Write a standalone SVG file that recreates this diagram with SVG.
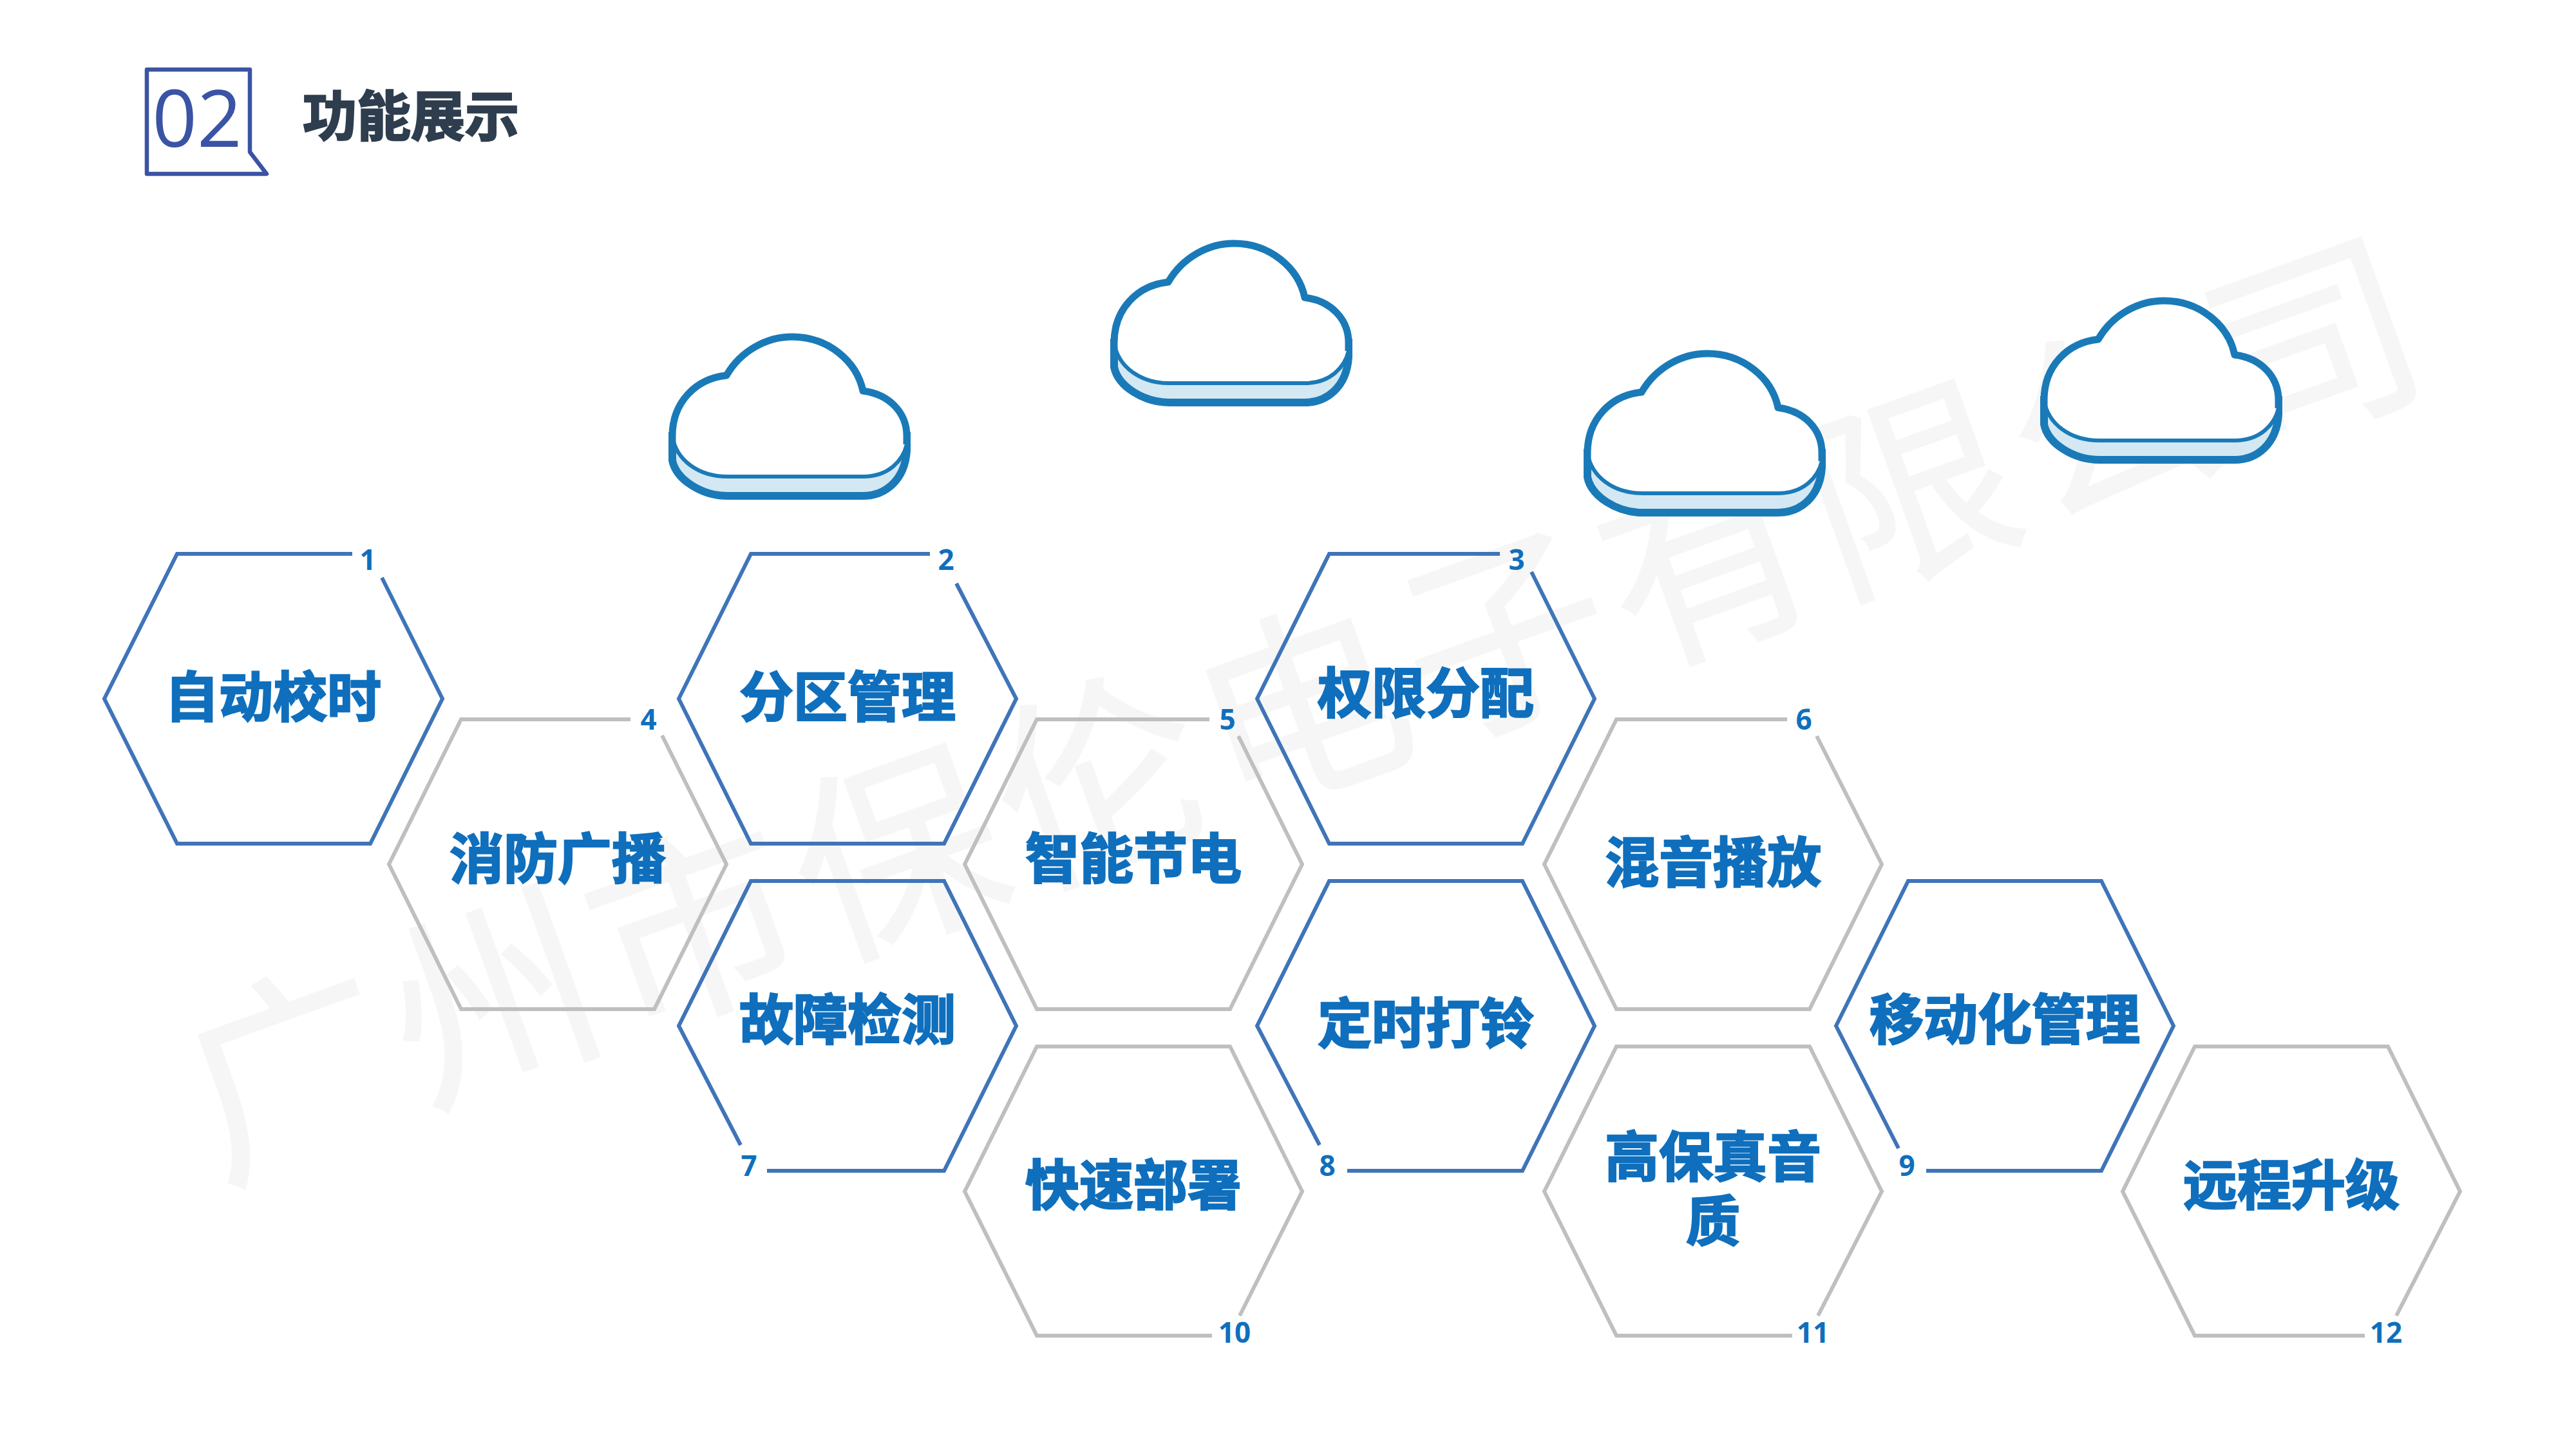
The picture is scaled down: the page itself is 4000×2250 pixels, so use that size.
<svg xmlns="http://www.w3.org/2000/svg" width="4000" height="2250" viewBox="0 0 4000 2250">
<style>
.hb{fill:none;stroke:#3f74b8;stroke-width:6}
.hg{fill:none;stroke:#bfbfbf;stroke-width:6}
.t{font-family:"Noto Sans CJK SC",sans-serif;font-weight:700;font-size:84px;fill:#0f6fbd;stroke:#0f6fbd;stroke-width:2.5;text-anchor:middle}
.n{font-family:"Open Sans","Noto Sans",sans-serif;font-weight:700;font-size:44px;fill:#0f6fbd;text-anchor:middle}
.c1{fill:none;stroke:#1a7ab8;stroke-width:11;stroke-linejoin:round}
</style>
<defs>
<g id="cloud">
<path d="M1044,677V715C1050,745 1090,770 1130,770H1340C1375,770 1405,745 1408,700V677Z" fill="#d3e8f2" stroke="#1a7ab8" stroke-width="12"/>
<path d="M1044,677C1044,625 1080,588 1128,583C1150,545 1190,523 1230,523C1285,523 1330,560 1340,607C1380,612 1408,640 1408,677C1408,710 1380,740 1340,740H1130C1085,740 1050,715 1044,677Z" fill="#fff" stroke="none"/>
<path d="M1044,690V677C1044,625 1080,588 1128,583C1150,545 1190,523 1230,523C1285,523 1330,560 1340,607C1380,612 1408,640 1408,677V690" class="c1"/>
<path d="M1044,677C1050,715 1085,740 1130,740H1340C1380,740 1402,715 1408,690" fill="none" stroke="#1a7ab8" stroke-width="6"/>
</g>
</defs>
<rect width="4000" height="2250" fill="#fff"/>
<text id="watermark" transform="translate(340,1830) rotate(-19.8)" font-family="Noto Sans CJK SC,sans-serif" font-size="320" fill="#f6f6f6" stroke="#f6f6f6" stroke-width="3" textLength="3660">广州市保伦电子有限公司</text>
<g id="header">
<path d="M228,108H388V236L414,270H228Z" fill="none" stroke="#3b53a4" stroke-width="6.5" stroke-linejoin="round"/>
<text x="306" y="228" font-family="Open Sans,sans-serif" font-weight="400" font-size="122" fill="#3b53a4" text-anchor="middle">02</text>
<text x="638" y="211" font-family="Noto Sans CJK SC,sans-serif" font-weight="700" font-size="84" fill="#2f3e4e" stroke="#2f3e4e" stroke-width="2.5" text-anchor="middle">功能展示</text>
</g>
<g id="clouds">
<use href="#cloud"/>
<use href="#cloud" transform="translate(686,-145)"/>
<use href="#cloud" transform="translate(1421,26)"/>
<use href="#cloud" transform="translate(2130,-56)"/>
</g>
<g id="node1"><path class="hb" d="M547,860H275L162,1085L275,1310H575L687,1085L593,897"/><text class="t" x="424" y="1113">自动校时</text><text class="n" x="571" y="885">1</text></g>
<g id="node2"><path class="hb" d="M1444,860H1166L1054,1085L1166,1310H1466L1578,1085L1485,906"/><text class="t" x="1316" y="1113">分区管理</text><text class="n" x="1469" y="885">2</text></g>
<g id="node3"><path class="hb" d="M2329,860H2064L1952,1085L2064,1310H2364L2476,1085L2378,888"/><text class="t" x="2214" y="1107">权限分配</text><text class="n" x="2355" y="885">3</text></g>
<g id="node4"><path class="hg" d="M979,1117H716L604,1342L716,1567H1016L1128,1342L1028,1142"/><text class="t" x="866" y="1364">消防广播</text><text class="n" x="1007" y="1133">4</text></g>
<g id="node5"><path class="hg" d="M1878,1117H1610L1498,1342L1610,1567H1910L2022,1342L1923,1143"/><text class="t" x="1760" y="1364">智能节电</text><text class="n" x="1906" y="1133">5</text></g>
<g id="node6"><path class="hg" d="M2775,1117H2510L2398,1342L2510,1567H2810L2922,1342L2821,1143"/><text class="t" x="2660" y="1370">混音播放</text><text class="n" x="2801" y="1133">6</text></g>
<g id="node7"><path class="hb" d="M1150,1778L1054,1593L1166,1368H1466L1578,1593L1466,1818H1191"/><text class="t" x="1316" y="1614">故障检测</text><text class="n" x="1163" y="1826">7</text></g>
<g id="node8"><path class="hb" d="M2049,1778L1952,1593L2064,1368H2364L2476,1593L2364,1818H2092"/><text class="t" x="2214" y="1620">定时打铃</text><text class="n" x="2061" y="1826">8</text></g>
<g id="node9"><path class="hb" d="M2948,1783L2851,1593L2963,1368H3263L3375,1593L3263,1818H2991"/><text class="t" x="3113" y="1614">移动化管理</text><text class="n" x="2961" y="1826">9</text></g>
<g id="node10"><path class="hg" d="M1882,2074H1610L1498,1850L1610,1625H1910L2022,1850L1925,2043"/><text class="t" x="1760" y="1871">快速部署</text><text class="n" x="1917" y="2085">10</text></g>
<g id="node11"><path class="hg" d="M2783,2074H2510L2398,1850L2510,1625H2810L2922,1850L2823,2043"/><text class="t" x="2660" y="1827">高保真音</text><text class="t" x="2660" y="1927">质</text><text class="n" x="2815" y="2085">11</text></g>
<g id="node12"><path class="hg" d="M3672,2074H3408L3296,1850L3408,1625H3708L3820,1850L3721,2043"/><text class="t" x="3558" y="1871">远程升级</text><text class="n" x="3705" y="2085">12</text></g>
</svg>
